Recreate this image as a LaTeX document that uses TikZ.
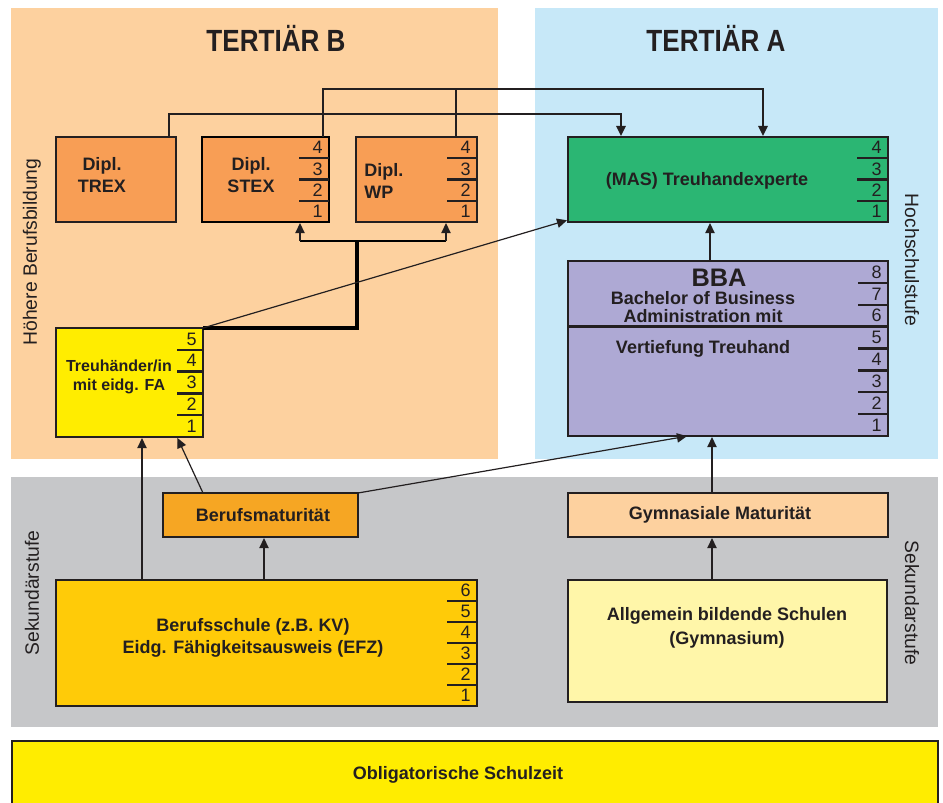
\documentclass[tikz,border=0pt]{standalone}
\usepackage{fontspec}
\setmainfont{Liberation Sans}
\newfontfamily\titlefont[FakeStretch=0.85]{Liberation Sans}
\usetikzlibrary{arrows.meta,calc}
\definecolor{ink}{HTML}{231F20}
\definecolor{panelB}{HTML}{FDD19F}
\definecolor{panelA}{HTML}{C7E8F8}
\definecolor{panelS}{HTML}{C6C7C9}
\definecolor{dipl}{HTML}{F89E55}
\definecolor{masgreen}{HTML}{2BB673}
\definecolor{bbalav}{HTML}{AEA9D4}
\definecolor{yel}{HTML}{FFED00}
\definecolor{bmorange}{HTML}{F6A623}
\definecolor{gympeach}{HTML}{FDD19F}
\definecolor{bsgold}{HTML}{FFCB08}
\definecolor{aglight}{HTML}{FFF6A9}

\newcommand{\bx}[6]{%
  \pgfmathsetmacro{\bxw}{(#4-#2)*0.75}%
  \pgfmathsetmacro{\bxh}{(#5-#3)*0.75}%
  \node[box,#6,minimum width=\bxw pt,minimum height=\bxh pt,anchor=north west] (#1) at (#2,#3) {};}

\newcommand{\numcol}[3]{%
  \pgfmathtruncatemacro{\nmlast}{#2-1}%
  \foreach \i in {1,...,\nmlast}{%
    \pgfmathsetmacro{\fl}{\i/#2}%
    \draw[numline] ($(#1.north east)!\fl!(#1.south east)$) -- ++(-#3,0);
  }%
  \foreach \i in {1,...,#2}{%
    \pgfmathsetmacro{\fc}{(\i-0.5)/#2}%
    \pgfmathtruncatemacro{\num}{#2-\i+1}%
    \node[numtxt] (#1-n\num) at ($(#1.north east)!\fc!(#1.south east)+(-6,0)$) {\num};
  }}

\begin{document}
\begin{tikzpicture}[x=0.75pt,y=-0.75pt,
  box/.style={draw=ink,line width=1.8pt,outer sep=0pt,inner sep=0pt},
  lbl/.style={font=\bfseries\fontsize{13.5}{17}\selectfont,text=ink,align=center,inner sep=0pt},
  numtxt/.style={font=\fontsize{13.5}{16}\selectfont,text=ink,anchor=east,inner sep=0pt},
  numline/.style={draw=ink,line width=1.7pt},
  side/.style={font=\fontsize{14.5}{17}\selectfont,text=ink,inner sep=0pt},
  titl/.style={font=\titlefont\bfseries\fontsize{23}{26}\selectfont,text=ink,inner sep=0pt},
  conn/.style={draw=ink,line width=0.9pt},
  arr/.style={conn,-{Triangle[length=7.5pt,width=7pt]},shorten >=0.8pt},
  topline/.style={draw=ink,line width=1.3pt},
  thickline/.style={draw=black,line width=2.3pt},
  midline/.style={draw=black,line width=1.6pt}]
\useasboundingbox (0,0) rectangle (943,803);

% panels
\fill[panelB] (11,8) rectangle (498,459);
\fill[panelA] (535,8) rectangle (938,459);
\fill[panelS] (11,477) rectangle (938,727);

% titles and side labels
\node[titl] (titleB) at (276,38) {TERTIÄR B};
\node[titl] (titleA) at (716,38) {TERTIÄR A};
\node[side,rotate=90] (sideHB) at (32,252) {Höhere Berufsbildung};
\node[side,rotate=-90] (sideHS) at (912,260) {Hochschulstufe};
\node[side,rotate=90] (sideSL) at (32,593) {Sekundärstufe};
\node[side,rotate=-90] (sideSR) at (912,603) {Sekundarstufe};

% boxes
\bx{trex}{56}{137}{176}{222}{fill=dipl}
\bx{stex}{202}{137}{329}{222}{fill=dipl,draw=black,line width=2.2pt}
\bx{wp}{356}{137}{477}{222}{fill=dipl}
\bx{mas}{568}{137}{888}{222}{fill=masgreen}
\bx{bba}{568}{261}{888}{436}{fill=bbalav}
\bx{treu}{56}{328}{203}{437}{fill=yel}
\bx{bm}{163}{493}{358}{537}{fill=bmorange}
\bx{gm}{568}{493}{888}{537}{fill=gympeach}
\bx{bs}{56}{580}{477}{706}{fill=bsgold}
\bx{ag}{568}{580}{887}{702}{fill=aglight}
\bx{os}{12}{741}{938}{812}{fill=yel}

% number columns
\numcol{stex}{4}{30}
\numcol{wp}{4}{30}
\numcol{mas}{4}{31}
\numcol{bba}{8}{30}
\numcol{treu}{5}{26}
\numcol{bs}{6}{30}
\draw[numline] ($(bba.north west)!0.375!(bba.south west)$) -- ($(bba.north east)!0.375!(bba.south east)$);

% texts
\node[lbl] (t-trex) at (102,175) {Dipl.\\TREX};
\node[lbl] (t-stex) at (251,175) {Dipl.\\STEX};
\node[lbl,align=left,anchor=west] (t-wp) at (364,181) {Dipl.\\WP};
\node[lbl] (t-mas) at (707,181) {(MAS) Treuhandexperte};
\node[lbl,font=\bfseries\fontsize{19}{20}\selectfont] (t-bba) at (719,278) {BBA};
\node[lbl,font=\bfseries\fontsize{13.5}{13.5}\selectfont] (t-bach) at (703,307) {Bachelor of Business\\Administration mit};
\node[lbl] (t-vert) at (703,349) {Vertiefung Treuhand};
\node[lbl,font=\bfseries\fontsize{12}{14.3}\selectfont] (t-treu) at (119,377) {Treuhänder/in\\mit eidg. FA};
\node[lbl] (t-bm) at (263,515) {Berufsmaturität};
\node[lbl] (t-gm) at (720,515) {Gymnasiale Maturität};
\node[lbl] (t-bs) at (253,638) {Berufsschule (z.B. KV)\\Eidg. Fähigkeitsausweis (EFZ)};
\node[lbl,font=\bfseries\fontsize{13.5}{18}\selectfont] (t-ag) at (727,628) {Allgemein bildende Schulen\\(Gymnasium)};
\node[lbl] (t-os) at (458,775) {Obligatorische Schulzeit};

% helper coordinates
\coordinate (c-trex) at (169,114);
\coordinate (c-mas1) at (621,114);
\coordinate (c-stex) at (323,89);
\coordinate (c-wp) at (456,89);
\coordinate (c-mas2) at (763,89);
\coordinate (c-k1) at (357,328);
\coordinate (c-k2) at (357,241);
\coordinate (c-s) at (300,241);
\coordinate (c-w) at (446,241);
\coordinate (x142) at (142,0);
\coordinate (x177) at (177,0);
\coordinate (x203) at (203,0);
\coordinate (x264) at (264,0);
\coordinate (x688) at (688,0);
\coordinate (x710) at (710,0);
\coordinate (x712) at (712,0);

% connectors
\draw[topline,-{Triangle[length=7.5pt,width=7pt]},shorten >=0.8pt] (trex.north -| c-trex) -- (c-trex) -- (c-mas1) -- (mas.north -| c-mas1);
\draw[topline,line width=1.6pt,-{Triangle[length=7.5pt,width=7pt]},shorten >=0.8pt] (stex.north -| c-stex) -- (c-stex) -- (c-mas2) -- (mas.north -| c-mas2);
\draw[topline,line width=1.6pt] (wp.north -| c-wp) -- (c-wp);

\draw[thickline] (treu.north east) -- (c-k1) -- (c-k2);
\draw[midline] (c-s) -- (c-w);
\draw[arr] (c-s) -- (stex.south -| c-s);
\draw[arr] (c-w) -- (wp.south -| c-w);
\draw[arr] (treu.north east) -- ($(mas.south west)+(0,-2)$);

\draw[arr] (bs.north -| x142) -- (treu.south -| x142);
\draw[arr] (bm.north -| x203) -- (treu.south -| x177);
\draw[arr] (bs.north -| x264) -- (bm.south -| x264);
\draw[arr] (bm.north east) -- (bba.south -| x688);
\draw[arr] (ag.north -| x712) -- (gm.south -| x712);
\draw[arr] (gm.north -| x712) -- (bba.south -| x712);
\draw[arr] (bba.north -| x710) -- (mas.south -| x710);
\end{tikzpicture}
\end{document}
